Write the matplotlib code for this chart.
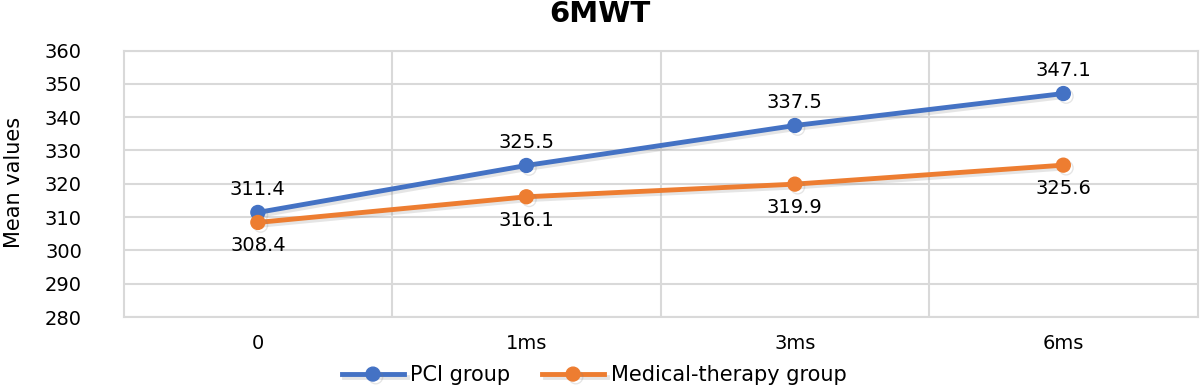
import matplotlib.pyplot as plt
import matplotlib.patheffects as pe

categories = ["0", "1ms", "3ms", "6ms"]
pci_values = [311.4, 325.5, 337.5, 347.1]
med_values = [308.4, 316.1, 319.9, 325.6]

blue = "#4472C4"
orange = "#ED7D31"

fig = plt.figure(figsize=(12, 3.89), dpi=100)
ax = fig.add_axes([0.103, 0.185, 0.895, 0.685])

x = list(range(len(categories)))
shadow = [pe.SimpleLineShadow(offset=(2, -2), shadow_color="gray", alpha=0.2), pe.Normal()]
ax.plot(x, pci_values, color=blue, lw=3.5, marker="o", ms=10, label="PCI group",
        path_effects=shadow, zorder=3)
ax.plot(x, med_values, color=orange, lw=3.5, marker="o", ms=10, label="Medical-therapy group",
        path_effects=shadow, zorder=3)

for i, v in enumerate(pci_values):
    ax.annotate(f"{v}", (i, v), xytext=(0, 10), textcoords="offset points",
                ha="center", va="bottom", fontsize=14)
for i, v in enumerate(med_values):
    ax.annotate(f"{v}", (i, v), xytext=(0, -10), textcoords="offset points",
                ha="center", va="top", fontsize=14)

ax.set_xlim(-0.5, len(categories) - 0.5)
ax.set_ylim(280, 360)
ax.set_yticks(range(280, 361, 10))
ax.set_xticks(x)
ax.set_xticklabels(categories)
ax.set_xticks([i + 0.5 for i in x[:-1]], minor=True)
ax.grid(axis="y", color="#d9d9d9", lw=1.5)
ax.grid(axis="x", which="minor", color="#d9d9d9", lw=1.5)
ax.set_axisbelow(True)
for s in ax.spines.values():
    s.set_color("#d9d9d9")
    s.set_linewidth(1.5)
ax.tick_params(which="both", length=0, labelsize=14)
ax.tick_params(axis="x", pad=12)
ax.tick_params(axis="y", pad=30)

fig.text(0.003, 0.53, "Mean values", rotation=90, ha="left", va="center", fontsize=15,
         family="Liberation Sans Narrow")
fig.text(0.5, 0.965, "6MWT", ha="center", va="center", fontsize=21, fontweight="bold")

fig.legend(loc="center", bbox_to_anchor=(0.495, 0.035), ncol=2, frameon=False, fontsize=15,
           handlelength=3, handletextpad=0.3, columnspacing=1.5, borderpad=0.2)

fig.savefig("out.png", dpi=100)
